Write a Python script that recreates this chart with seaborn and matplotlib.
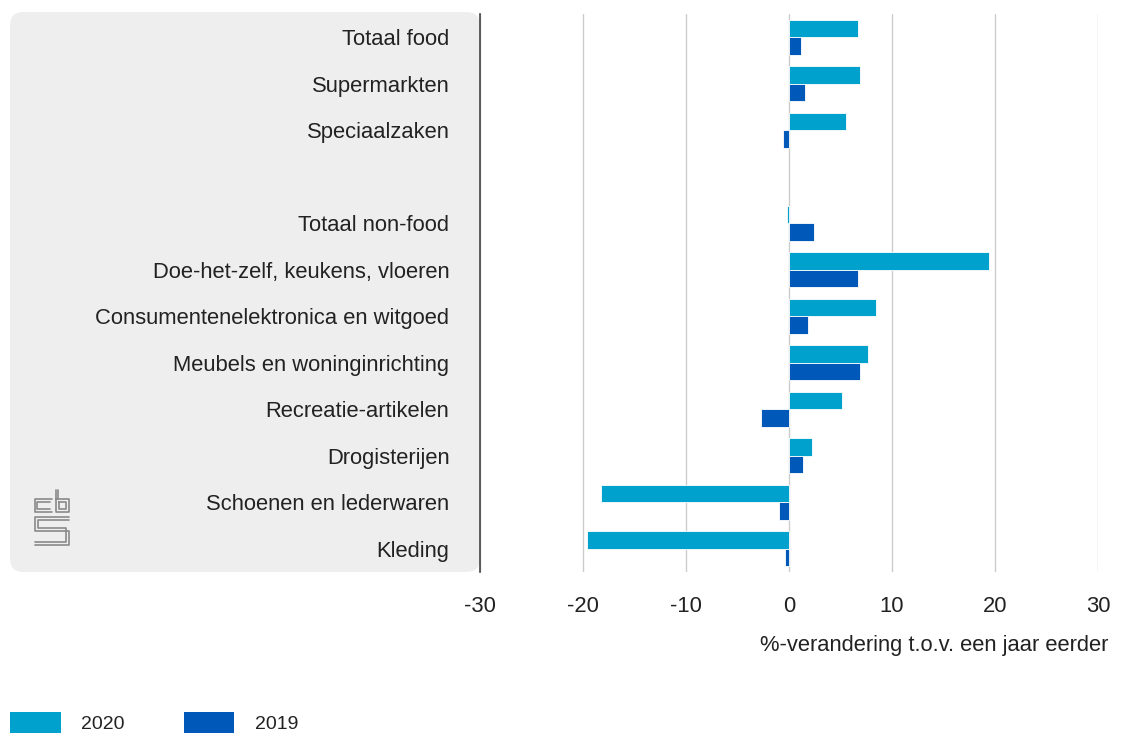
import pandas as pd
import matplotlib.pyplot as plt
import seaborn as sns
from matplotlib.patches import FancyBboxPatch, Patch
from matplotlib.lines import Line2D

# Data
categorieen = ['Totaal food', 'Supermarkten', 'Speciaalzaken', ' ',
               'Totaal non-food', 'Doe-het-zelf, keukens, vloeren',
               'Consumentenelektronica en witgoed', 'Meubels en woninginrichting',
               'Recreatie-artikelen', 'Drogisterijen', 'Schoenen en lederwaren', 'Kleding']
branches = ['Totaal food', 'Supermarkten', 'Speciaalzaken',
            'Totaal non-food', 'Doe-het-zelf, keukens, vloeren',
            'Consumentenelektronica en witgoed', 'Meubels en woninginrichting',
            'Recreatie-artikelen', 'Drogisterijen', 'Schoenen en lederwaren', 'Kleding']
waarden_2020 = [6.7, 6.9, 5.5, -0.2, 19.4, 8.4, 7.7, 5.1, 2.2, -18.3, -19.6]
waarden_2019 = [1.2, 1.6, -0.6, 2.4, 6.7, 1.8, 6.9, -2.7, 1.4, -1.0, -0.4]
jaren = ['2020', '2019']
kleuren = {'2020': '#00a1cd', '2019': '#0058b8'}
xticks = [-30, -20, -10, 0, 10, 20, 30]

df = pd.DataFrame({
    'categorie': branches * 2,
    'jaar': ['2020'] * len(branches) + ['2019'] * len(branches),
    'waarde': waarden_2020 + waarden_2019,
})

sns.set_style('white')
plt.rcParams['font.family'] = ['Liberation Sans', 'DejaVu Sans']

W, H = 1139, 736
fig = plt.figure(figsize=(W / 100, H / 100), dpi=100)

# grey label panel (behind the axes)
panel = FancyBboxPatch((10 / W, 1 - 572 / H), 470 / W, 560 / H,
                       boxstyle='round,pad=0,rounding_size=0.012',
                       transform=fig.transFigure, facecolor='#eeeeee',
                       edgecolor='none', zorder=-5, mutation_aspect=W / H)
fig.patches.append(panel)

ax = fig.add_axes([480 / W, 1 - 572 / H, 618 / W, 558 / H])
ax.set_facecolor('none')

sns.barplot(data=df, y='categorie', x='waarde', hue='jaar', order=categorieen,
            hue_order=jaren, palette=kleuren, orient='h', errorbar=None,
            saturation=1, width=0.76, edgecolor='white', linewidth=0.6,
            ax=ax, zorder=3)

ax.set_xlim(-30, 30)
ax.set_ylim(len(categorieen) - 0.5, -0.5)
ax.set_xticks(xticks)
ax.set_xticklabels([str(t) for t in xticks])
ax.grid(axis='x', color='#cccccc', linewidth=1, zorder=0)
ax.grid(axis='y', visible=False)
for s in ['top', 'right', 'bottom']:
    ax.spines[s].set_visible(False)
ax.spines['left'].set_color('#444444')
ax.spines['left'].set_linewidth(1.2)
ax.tick_params(axis='x', length=0, pad=17, labelsize=15.8, labelcolor='#222222')
ax.tick_params(axis='y', length=0, pad=22, labelsize=15.8, labelcolor='#222222')
ax.set_xlabel('')
ax.set_ylabel('')
if ax.get_legend() is not None:
    ax.get_legend().remove()

fig.text(1108 / W, 1 - 645 / H, '%-verandering t.o.v. een jaar eerder',
         ha='right', va='center', fontsize=15.8, color='#222222')

# legend
handles = [Patch(facecolor=kleuren[j], edgecolor='none') for j in jaren]
fig.legend(handles, jaren, loc='lower left', bbox_to_anchor=(10 / W, 3 / H),
           ncol=2, frameon=False, fontsize=14, handlelength=2.6, handleheight=1.25,
           handletextpad=1.05, columnspacing=3.05, borderpad=0, borderaxespad=0,
           labelcolor='#222222')

# cbs logo (simple line drawing)
def px(x, y):
    return [v / W for v in x], [1 - v / H for v in y]

logo = [
    ([52, 35, 35, 52], [499, 499, 512, 512]),
    ([50, 37, 37, 50], [502, 502, 509, 509]),
    ([56, 56, 69, 69, 56], [490, 512, 512, 499, 499]),
    ([59, 59, 66, 66, 59], [502, 509, 509, 502, 502]),
    ([58, 58], [490, 499]),
    ([69, 35, 35, 69, 69, 35], [517, 517, 531, 531, 545, 545]),
    ([69, 38, 38, 66, 66, 35], [520, 520, 528, 528, 542, 542]),
]
for xs, ys in logo:
    lx, ly = px(xs, ys)
    fig.add_artist(Line2D(lx, ly, color='#8a8a8a', linewidth=1.2,
                          transform=fig.transFigure))

fig.savefig('out.png', dpi=100)
